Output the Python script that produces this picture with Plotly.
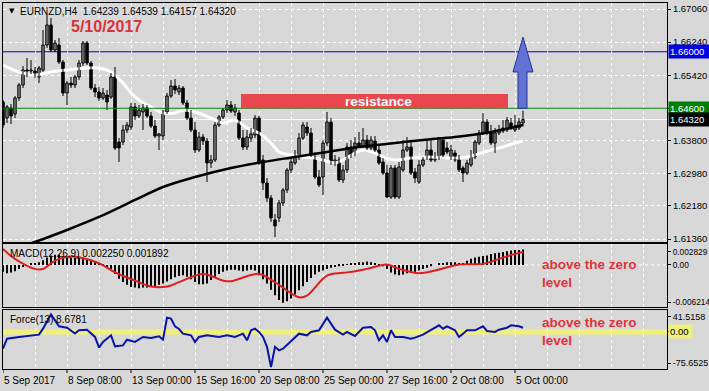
import plotly.graph_objects as go

# ---------------- data ----------------
bars = list(range(131))

opens = [1.64755,1.64359,1.64607,1.64458,1.64855,1.65177,1.65548,1.65524,1.65524,1.65375,
         1.65548,1.66168,1.66664,1.66044,1.66168,1.65747,1.64978,1.65226,1.65177,1.65375,
         1.65722,1.66217,1.65722,1.65102,1.65003,1.64855,1.64929,1.64879,1.65375,1.63764,
         1.63764,1.64062,1.64136,1.64632,1.64409,1.64508,1.64607,1.64409,1.64161,1.63913,
         1.63913,1.64508,1.64904,1.65152,1.65003,1.65102,1.64731,1.64359,1.64062,1.63566,
         1.63888,1.63789,1.63244,1.63318,1.64186,1.64384,1.64557,1.64681,1.64508,1.64483,
         1.63863,1.63640,1.63863,1.63938,1.64359,1.63318,1.62748,1.62376,1.61832,1.61883,
         1.62253,1.62575,1.63070,1.63244,1.63393,1.63863,1.64136,1.63987,1.63393,1.62897,
         1.62897,1.63739,1.64260,1.63244,1.63318,1.62823,1.63070,1.63640,1.63492,1.63739,
         1.63665,1.63814,1.63616,1.63789,1.63566,1.63269,1.62996,1.62401,1.63120,1.62401,
         1.63070,1.63566,1.63640,1.63021,1.62773,1.63195,1.63393,1.63566,1.63318,1.63393,
         1.63814,1.63616,1.63393,1.63492,1.63318,1.63120,1.62996,1.63195,1.63393,1.63739,
         1.63987,1.64260,1.63987,1.63739,1.63987,1.64111,1.64062,1.64235,1.64062,1.64111,
         1.64239]
highs = [1.64805,1.64681,1.64706,1.64904,1.65226,1.65648,1.65846,1.65796,1.65623,1.65648,
         1.66540,1.66911,1.66837,1.66292,1.66341,1.65796,1.65276,1.65375,1.65425,1.65796,
         1.66267,1.66267,1.65771,1.65202,1.65127,1.65102,1.65053,1.65474,1.65623,1.63863,
         1.64186,1.64260,1.64731,1.64731,1.64681,1.64706,1.64681,1.64508,1.64309,1.63987,
         1.64557,1.64978,1.65301,1.65325,1.65177,1.65152,1.64805,1.64557,1.64260,1.64012,
         1.63963,1.63863,1.63442,1.64260,1.64433,1.64607,1.64805,1.64780,1.64706,1.64557,
         1.64062,1.64062,1.64111,1.64433,1.64409,1.63442,1.62872,1.62451,1.61980,1.62327,
         1.62624,1.63120,1.63368,1.63566,1.63987,1.64260,1.64260,1.64111,1.63517,1.63070,
         1.63814,1.64508,1.64359,1.63442,1.63393,1.63195,1.63739,1.63814,1.63888,1.64012,
         1.64111,1.63938,1.63913,1.63913,1.63690,1.63368,1.63195,1.63195,1.63195,1.63269,
         1.63814,1.63888,1.63814,1.63120,1.63318,1.63393,1.63814,1.63814,1.63517,1.63888,
         1.63888,1.63764,1.63690,1.63566,1.63442,1.63170,1.63318,1.63566,1.63814,1.64062,
         1.64483,1.64334,1.64186,1.64111,1.64186,1.64309,1.64384,1.64359,1.64433,1.64359,
         1.64539]
lows = [1.64111,1.64235,1.64210,1.64359,1.64780,1.65102,1.65375,1.65449,1.65350,1.65226,
        1.65499,1.66094,1.65994,1.65994,1.65697,1.64904,1.64681,1.65102,1.65102,1.65301,
        1.65648,1.65672,1.65053,1.64879,1.64780,1.64805,1.64557,1.64830,1.63566,1.63269,
        1.63690,1.63987,1.64062,1.64309,1.64359,1.64062,1.64359,1.64111,1.63863,1.63566,
        1.63814,1.64458,1.64855,1.64954,1.64929,1.64681,1.64309,1.64012,1.63492,1.63517,
        1.63690,1.62773,1.63120,1.63269,1.64136,1.64334,1.64483,1.64483,1.64409,1.63814,
        1.63566,1.63566,1.63764,1.63863,1.63195,1.62575,1.62278,1.61782,1.61410,1.61782,
        1.62178,1.62500,1.62996,1.63195,1.63318,1.63814,1.63913,1.63393,1.62847,1.62649,
        1.62451,1.63665,1.63195,1.63170,1.62773,1.62748,1.62996,1.63368,1.63417,1.63616,
        1.63616,1.63566,1.63566,1.63517,1.63195,1.62947,1.62376,1.62352,1.62352,1.62352,
        1.63021,1.63517,1.62947,1.62748,1.62723,1.63145,1.63318,1.63269,1.63269,1.63318,
        1.63393,1.63467,1.63318,1.63269,1.63021,1.62773,1.62947,1.63145,1.63343,1.63690,
        1.63938,1.63938,1.63690,1.63492,1.63938,1.63987,1.64012,1.64062,1.64012,1.64062,
        1.64157]
closes = [1.64186,1.64632,1.64409,1.64855,1.65177,1.65548,1.65524,1.65548,1.65425,1.65598,
          1.66168,1.66664,1.66044,1.66217,1.65747,1.64978,1.65226,1.65177,1.65375,1.65722,
          1.66217,1.65722,1.65102,1.65003,1.64855,1.64978,1.64755,1.65375,1.63616,1.63616,
          1.64062,1.64186,1.64632,1.64409,1.64557,1.64607,1.64409,1.64161,1.63913,1.63963,
          1.64508,1.64904,1.65152,1.65053,1.65102,1.64731,1.64359,1.64062,1.63566,1.63888,
          1.63789,1.63244,1.63318,1.64186,1.64384,1.64557,1.64681,1.64532,1.64607,1.63863,
          1.63640,1.63888,1.63963,1.64359,1.63244,1.62748,1.62376,1.61883,1.61683,1.62253,
          1.62575,1.63070,1.63269,1.63442,1.63863,1.64186,1.63987,1.63442,1.62897,1.62699,
          1.63739,1.64260,1.63244,1.63318,1.62823,1.63070,1.63640,1.63442,1.63739,1.63665,
          1.63814,1.63616,1.63814,1.63566,1.63244,1.62996,1.62401,1.63120,1.62401,1.63145,
          1.63566,1.63640,1.62996,1.62872,1.63195,1.63318,1.63566,1.63318,1.63393,1.63863,
          1.63442,1.63517,1.63566,1.63318,1.63070,1.62996,1.63244,1.63393,1.63764,1.63987,
          1.64260,1.63987,1.63739,1.63987,1.64062,1.64037,1.64309,1.64111,1.64161,1.64260,
          1.64320]

# fast moving average (white) read at sample bars
ma_fast_bars = [0,4,8,12,16,21,24,27,30,32,34,37,40,43,45,48,52,55,58,61,64,67,69,72,75,78,
                80,83,85,88,90,93,95,98,102,107,112,116,118,122,125,128,130]
ma_fast_vals = [1.65672,1.65499,1.65425,1.65499,1.65548,1.65598,1.65598,1.65499,1.65226,1.64978,
                1.64805,1.64632,1.64483,1.64483,1.64557,1.64508,1.64359,1.64235,1.64309,1.64111,
                1.63987,1.63739,1.63517,1.63442,1.63393,1.63368,1.63318,1.63244,1.63318,1.63492,
                1.63566,1.63492,1.63393,1.63318,1.63368,1.63393,1.63368,1.63393,1.63442,1.63566,
                1.63640,1.63739,1.63789]
# slow moving average (black)
ma_slow_bars = [6,8,16,24,33,40,48,57,65,73,81,89,98,105,113,122,130]
ma_slow_vals = [1.61220,1.61286,1.61584,1.61906,1.62327,1.62649,1.62897,1.63120,1.63269,1.63393,
                1.63517,1.63640,1.63739,1.63814,1.63888,1.64012,1.64186]

# MACD histogram (main) per bar
macd_hist = [-0.0010,-0.0012,-0.0011,-0.0009,-0.0006,-0.0003,0.0000,0.0002,0.0003,0.0004,
             0.0007,0.0011,0.0014,0.0015,0.0015,0.0013,0.0011,0.0011,0.0010,0.0010,
             0.0011,0.0009,0.0007,0.0005,0.0003,0.0001,-0.0003,-0.0006,-0.0013,-0.0020,
             -0.0025,-0.0029,-0.0032,-0.0033,-0.0034,-0.0033,-0.0033,-0.0032,-0.0031,-0.0029,
             -0.0027,-0.0024,-0.0021,-0.0018,-0.0016,-0.0015,-0.0017,-0.0021,-0.0025,-0.0028,
             -0.0028,-0.0027,-0.0022,-0.0017,-0.0013,-0.0010,-0.0008,-0.0007,-0.0007,-0.0008,
             -0.0009,-0.0008,-0.0007,-0.0008,-0.0015,-0.0021,-0.0027,-0.0036,-0.0044,-0.0051,
             -0.0055,-0.0053,-0.0049,-0.0043,-0.0037,-0.0031,-0.0025,-0.0019,-0.0014,-0.0010,
             -0.0008,-0.0006,-0.0004,-0.0003,-0.0002,-0.0001,0.0001,0.0002,0.0003,0.0004,
             0.0004,0.0005,0.0004,0.0003,0.0001,-0.0002,-0.0006,-0.0011,-0.0014,-0.0015,
             -0.0014,-0.0012,-0.0011,-0.0010,-0.0008,-0.0006,-0.0004,-0.0002,0.0000,0.0002,
             0.0003,0.0004,0.0004,0.0004,0.0003,0.0003,0.0006,0.0009,0.0011,0.0012,
             0.0013,0.0014,0.0016,0.0017,0.0018,0.0019,0.0020,0.0021,0.0022,0.0022,0.00225]
# MACD signal line read at sample bars
sig_bars = [0,3,8,10,13,17,19,24,28,33,37,41,44,50,55,57,64,68,74,76,81,85,88,91,96,99,104,108,
            114,120,124,128,130]
sig_vals = [0.00235,0.00089,-0.00057,-0.00057,0.00064,0.00123,0.00112,0.00025,-0.00107,-0.00228,
            -0.00315,-0.00315,-0.00250,-0.00130,-0.00228,-0.00238,-0.00130,-0.00252,-0.00471,-0.00446,
            -0.00155,-0.00115,-0.00092,-0.00057,0.00006,-0.00057,-0.00121,-0.00082,0.00006,0.00016,
            0.00089,0.00162,0.001892]

# Force index read at sample bars
force_bars = [0,1,4,9,10,12,13,14,16,17,18,19,21,23,24,25,27,28,30,31,33,35,37,39,40,41,42,43,
              44,45,47,48,49,51,54,56,58,60,61,62,63,64,65,66,67,68,69,70,73,74,76,77,79,81,82,
              83,85,86,88,90,92,93,94,95,96,97,98,100,102,103,105,107,109,110,111,113,114,115,
              116,118,120,121,123,124,126,127,129,130]
force_vals = [-33.6,-13.5,-10,-5.4,6.7,35.7,23.5,11.4,8.7,3.4,-3,3.4,4.7,-10,-31.6,-20,-6.7,-29,
              -27,-15.5,-20,-10,-12,-8.7,-15.5,29,27,11.4,6,-3.4,-6.7,-20,-10,-6.7,-10,-6.7,-10,
              -3.4,-16.8,3.4,6.7,0,-10,-30,-71,-30,-37,-33.6,-10,-3.4,-6.7,0,3.4,29,16.8,4.7,-5.4,
              0,-8,8.7,10,3.4,-16.8,-6.7,-20,3.4,-10,-10,-13.5,-11.4,-5.4,3.4,13.5,6.7,11.4,3.4,
              -10,-3.4,3.4,3.4,11.4,2,0,4.7,8.7,13.5,11.4,8.6781]

price_ticks = [1.6706, 1.6624, 1.6542, 1.6460, 1.6380, 1.6298, 1.6218, 1.6136]
price_tick_text = ["1.67060", "1.66240", "1.65420", "", "1.63800", "1.62980", "1.62180", "1.61360"]
time_tick_bars = [0, 16, 32, 48, 64, 80, 96, 112, 128]
time_tick_text = ["5 Sep 2017", "8 Sep 08:00", "13 Sep 00:00", "15 Sep 16:00", "20 Sep 08:00",
                  "25 Sep 00:00", "27 Sep 16:00", "2 Oct 08:00", "5 Oct 00:00"]
level_blue = 1.66000
level_green = 1.64600
level_bid = 1.64320
resist_low, resist_high = 1.64600, 1.64954
resist_from, resist_to = 59.5, 126.25
arrow_bar, arrow_tip = 130, 1.66366

# ---------------- figure ----------------
W, H = 709, 391
BG = "#d8d8d8"
FONT = "Liberation Sans, Arial, sans-serif"
FS = 10
AFS = 9.5
BOLD = "Liberation Sans, Arial, sans-serif"

def py(px):  # pixel row -> paper y
    return 1 - px / H

XD = [3 / W, 667 / W]
fig = go.Figure()

fig.add_trace(go.Scatter(x=ma_fast_bars, y=ma_fast_vals, mode="lines",
                         line=dict(color="white", width=3, shape="spline", smoothing=0.8),
                         xaxis="x", yaxis="y", hoverinfo="skip"))
wx, wy = [], []
for i, h, l in zip(bars, highs, lows):
    wx += [i, i, None]
    wy += [l, h, None]
fig.add_trace(go.Scatter(x=wx, y=wy, mode="lines", line=dict(color="black", width=1),
                         xaxis="x", yaxis="y", hoverinfo="skip"))
base = [min(o, c) for o, c in zip(opens, closes)]
body = [max(abs(c - o), 0.00004) for o, c in zip(opens, closes)]
cols = ["white" if c >= o else "black" for o, c in zip(opens, closes)]
fig.add_trace(go.Bar(x=bars, y=body, base=base, width=0.62,
                     marker=dict(color=cols, line=dict(color="black", width=1)),
                     xaxis="x", yaxis="y", hoverinfo="skip"))
fig.add_trace(go.Scatter(x=ma_slow_bars, y=ma_slow_vals, mode="lines",
                         line=dict(color="black", width=2.5, shape="spline"),
                         xaxis="x", yaxis="y", hoverinfo="skip"))

fig.add_trace(go.Bar(x=bars, y=macd_hist, width=0.28, marker=dict(color="black", line=dict(width=0)),
                     xaxis="x2", yaxis="y2", hoverinfo="skip"))
fig.add_trace(go.Scatter(x=sig_bars, y=sig_vals, mode="lines",
                         line=dict(color="#e01e1e", width=2, shape="spline"),
                         xaxis="x2", yaxis="y2", hoverinfo="skip"))

fig.add_trace(go.Scatter(x=force_bars, y=force_vals, mode="lines",
                         line=dict(color="#0a14a8", width=2),
                         xaxis="x3", yaxis="y3", hoverinfo="skip"))

grid_vals = list(range(0, 167, 8))
xcommon = dict(range=[0, 166], domain=XD, showline=True, mirror=True, linecolor="black",
               linewidth=1, tickmode="array", tickvals=grid_vals, showticklabels=False,
               ticks="", showgrid=True, gridcolor="white", gridwidth=1, griddash="3px,3px",
               zeroline=False, fixedrange=True, automargin=False)
ycommon = dict(side="right", showline=True, mirror=True, linecolor="black", linewidth=1,
               ticks="outside", ticklen=3, tickcolor="black", zeroline=False, automargin=False,
               fixedrange=True)

fig.update_layout(
    width=W, height=H, autosize=False, margin=dict(l=0, r=0, t=0, b=0, pad=0),
    paper_bgcolor=BG, plot_bgcolor=BG, showlegend=False, barmode="overlay",
    xaxis=dict(anchor="y", **xcommon),
    xaxis2=dict(anchor="y2", **xcommon),
    xaxis3=dict(anchor="y3", **xcommon),
    yaxis=dict(anchor="x", domain=[py(242), py(3)], range=[1.61286, 1.67209],
               tickmode="array", tickvals=price_ticks, ticktext=price_tick_text,
               tickfont=dict(family=FONT, size=AFS, color="black"),
               showgrid=True, gridcolor="white", griddash="3px,3px", **ycommon),
    yaxis2=dict(anchor="x2", domain=[py(307), py(244)], range=[-0.00613, 0.00306],
                tickmode="array", tickvals=[0.0019, 0, -0.0054],
                ticktext=["0.002829", "0.00", "-0.006214"], showgrid=False,
                tickfont=dict(family=FONT, size=8.3, color="black"), **ycommon),
    yaxis3=dict(anchor="x3", domain=[py(369), py(310)], range=[-74.7, 44.4],
                tickmode="array", tickvals=[30.3, 0, -62.6],
                ticktext=["41.5158", "", "-75.6525"], showgrid=False,
                tickfont=dict(family=FONT, size=9, color="black"), **ycommon),
)

shapes = []
shapes.append(dict(type="line", xref="paper", x0=XD[0], x1=XD[1], yref="y", y0=level_bid, y1=level_bid,
                   line=dict(color="white", width=1), layer="between"))
shapes.append(dict(type="line", xref="paper", x0=XD[0], x1=XD[1], yref="y", y0=level_blue, y1=level_blue,
                   line=dict(color="#0000c8", width=1), layer="between"))
shapes.append(dict(type="line", xref="paper", x0=XD[0], x1=XD[1], yref="y2", y0=0, y1=0,
                   line=dict(color="white", width=1, dash="3px,3px"), layer="between"))
shapes.append(dict(type="line", xref="paper", x0=XD[0], x1=XD[1], yref="y3", y0=0, y1=0,
                   line=dict(color="#f0f07a", width=5), layer="between"))
for b in time_tick_bars:
    shapes.append(dict(type="line", xref="x3", x0=b, x1=b, yref="paper", y0=py(369), y1=py(373),
                       line=dict(color="black", width=1)))
shapes.append(dict(type="line", xref="paper", x0=XD[0], x1=XD[1], yref="y", y0=level_green, y1=level_green,
                   line=dict(color="#008000", width=1), layer="above"))
shapes.append(dict(type="rect", xref="x", yref="y", x0=resist_from, x1=resist_to,
                   y0=resist_low, y1=resist_high, fillcolor="#e9474f", line=dict(width=0), layer="above"))
a0 = arrow_bar
head_base = level_green + (arrow_tip - level_green) * 0.51
path = (f"M {a0-1.25},{level_green} L {a0+1.0},{level_green} L {a0+1.0},{head_base} "
        f"L {a0+2.5},{head_base} L {a0},{arrow_tip} L {a0-2.5},{head_base} L {a0-1.25},{head_base} Z")
shapes.append(dict(type="path", xref="x", yref="y", path=path, fillcolor="#6272d4",
                   line=dict(color="#27358f", width=1), layer="above"))
fig.update_layout(shapes=shapes)

ann = []
ann.append(dict(xref="paper", yref="paper", x=7 / W, y=py(11), xanchor="left", yanchor="middle",
                text="▼", showarrow=False, font=dict(family="DejaVu Sans", size=7, color="black")))
ann.append(dict(xref="paper", yref="paper", x=18 / W, y=py(11), xanchor="left", yanchor="middle",
                text="EURNZD,H4  1.64239 1.64539 1.64157 1.64320", showarrow=False,
                font=dict(family=FONT, size=FS, color="black")))
ann.append(dict(xref="paper", yref="paper", x=69 / W, y=py(27), xanchor="left", yanchor="middle",
                text="<b>5/10/2017</b>", showarrow=False, font=dict(family=BOLD, size=16, color="#d8343a")))
ann.append(dict(xref="x", yref="y", x=(resist_from + resist_to) / 2 + 1, y=(resist_low + resist_high) / 2,
                xanchor="center", yanchor="middle", text="<b>resistance</b>", showarrow=False,
                font=dict(family=BOLD, size=13.5, color="white")))
ann.append(dict(xref="paper", yref="paper", x=8 / W, y=py(253), xanchor="left", yanchor="middle",
                text="MACD(12,26,9) 0.002250 0.001892", showarrow=False,
                font=dict(family=FONT, size=FS, color="black")))
ann.append(dict(xref="paper", yref="paper", x=8 / W, y=py(319), xanchor="left", yanchor="middle",
                text="Force(13) 8.6781", showarrow=False, font=dict(family=FONT, size=FS, color="black")))
for yy in (273, 331):
    ann.append(dict(xref="paper", yref="paper", x=540 / W, y=py(yy), xanchor="left", yanchor="middle",
                    text="<b>above the zero<br>level</b>", align="left", showarrow=False,
                    font=dict(family=BOLD, size=13.5, color="#e3333a")))
for b, t in zip(time_tick_bars, time_tick_text):
    ann.append(dict(xref="x3", yref="paper", x=b, y=py(380), xanchor="left", yanchor="middle",
                    xshift=-1, text=t, showarrow=False, font=dict(family=FONT, size=FS, color="black")))
for val, ref, txt, bg, fg, wd in [(level_blue, "y", "1.66000", "#0000e0", "white", 39),
                                  (level_green, "y", "1.64600", "#008000", "white", 39),
                                  (level_bid, "y", "1.64320", "black", "white", 39),
                                  (0, "y3", "0.00", "#f0f07a", "black", 21)]:
    ann.append(dict(xref="paper", yref=ref, x=668 / W, y=val, xanchor="left", yanchor="middle",
                    text=txt, showarrow=False, bgcolor=bg, borderpad=1, width=wd, align="left",
                    font=dict(family=FONT, size=AFS, color=fg)))
fig.update_layout(annotations=ann)

fig.write_html("out.html")
